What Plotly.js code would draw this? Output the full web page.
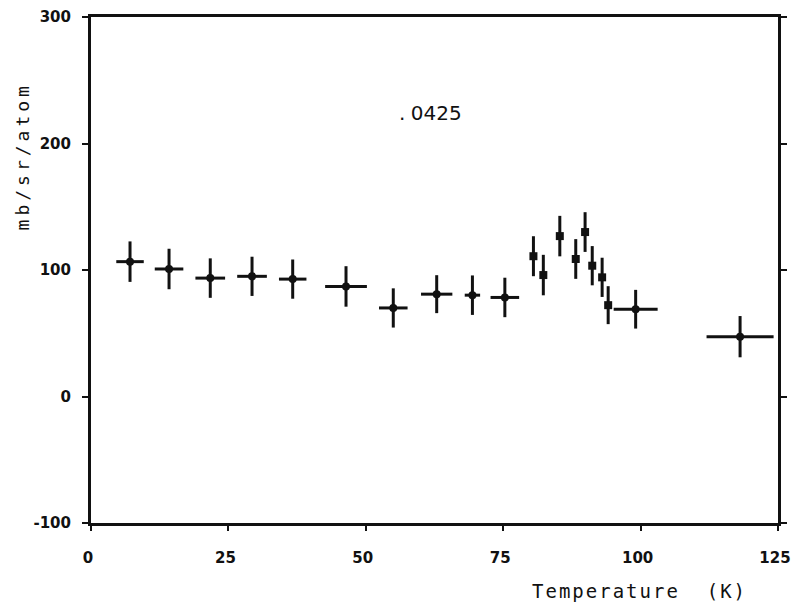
<!DOCTYPE html>
<html>
<head>
<meta charset="utf-8">
<script src="https://cdn.plot.ly/plotly-3.0.1.min.js"></script>
<style>html,body{margin:0;padding:0;background:#fff;}</style>
</head>
<body>
<div id="chart" style="width:798px;height:611px;"></div>
<script>
// Broad temperature bins (with horizontal extent)
var tempWide = [7.1, 14.2, 21.7, 29.3, 36.7, 46.4, 55.0, 62.9, 69.4, 75.3, 99.1, 118.1];
var tempWideErr = [2.5, 2.6, 2.7, 2.7, 2.5, 3.8, 2.6, 2.85, 1.4, 2.6, 4.0, 6.1];
var xsWide = [106.6, 100.8, 93.6, 95.0, 92.8, 87.0, 70.0, 80.9, 80.1, 78.3, 69.0, 47.3];
var xsWideErr = [16, 16, 15.6, 15.5, 15.5, 16, 15.5, 15, 15.6, 15.6, 15.3, 16.3];

// Fine scan points near the transition
var tempFine = [80.5, 82.3, 85.3, 88.2, 89.9, 91.2, 93.0, 94.1];
var xsFine = [110.9, 96.0, 126.8, 108.7, 130.0, 103.4, 94.2, 72.2];
var xsFineErr = [15.8, 16, 16, 15.7, 15.7, 15.5, 15.5, 15];

var xTicks = [0, 25, 50, 75, 100, 125];
var yTicks = [-100, 0, 100, 200, 300];

var ink = '#111111';

var traces = [
  {
    x: tempWide, y: xsWide, type: 'scatter', mode: 'markers',
    marker: {symbol: 'circle', size: 8, color: ink},
    error_x: {type: 'data', array: tempWideErr, visible: true, color: ink, thickness: 3, width: 0},
    error_y: {type: 'data', array: xsWideErr, visible: true, color: ink, thickness: 3, width: 0},
    hoverinfo: 'x+y', showlegend: false
  },
  {
    x: tempFine, y: xsFine, type: 'scatter', mode: 'markers',
    marker: {symbol: 'square', size: 8, color: ink},
    error_y: {type: 'data', array: xsFineErr, visible: true, color: ink, thickness: 3, width: 0},
    hoverinfo: 'x+y', showlegend: false
  }
];

var tickFont = {family: 'DejaVu Sans', size: 15, color: ink, weight: 'bold'};

var layout = {
  width: 798, height: 611,
  margin: {l: 91, r: 20, t: 17, b: 88},
  paper_bgcolor: '#ffffff', plot_bgcolor: '#ffffff',
  showlegend: false,
  xaxis: {
    range: [0, 125], tickvals: xTicks, ticktext: xTicks.map(String),
    showgrid: false, zeroline: false,
    showline: true, linewidth: 3, linecolor: ink, mirror: true,
    ticks: 'outside', ticklen: 5, tickwidth: 2, tickcolor: ink,
    ticklabelstandoff: 14, ticklabelshift: -3,
    tickfont: tickFont
  },
  yaxis: {
    range: [-100, 300], tickvals: yTicks, ticktext: yTicks.map(String),
    showgrid: false, zeroline: false,
    showline: true, linewidth: 3, linecolor: ink, mirror: 'allticks',
    ticks: 'outside', ticklen: 6, tickwidth: 2, tickcolor: ink,
    ticklabelstandoff: 8,
    tickfont: tickFont
  },
  annotations: [
    {text: '.<span style="letter-spacing:-1px"> </span>0425', x: 61.7, y: 224, xref: 'x', yref: 'y', showarrow: false,
     font: {family: 'DejaVu Sans', size: 20, color: ink}},
    {text: '<span style="letter-spacing:4px">mb/sr/atom</span>', xref: 'paper', yref: 'paper', x: -0.1, y: 0.725,
     xanchor: 'center', yanchor: 'middle', textangle: -90, showarrow: false,
     font: {family: 'DejaVu Sans Mono', size: 18, color: ink}},
    {text: '<span style="letter-spacing:2px">Temperature  (K)</span>', xref: 'paper', yref: 'paper', x: 0.798, y: -0.134,
     xanchor: 'center', yanchor: 'middle', showarrow: false,
     font: {family: 'DejaVu Sans Mono', size: 19, color: ink}}
  ]
};

Plotly.newPlot('chart', traces, layout, {displayModeBar: false, staticPlot: true});
</script>
</body>
</html>
